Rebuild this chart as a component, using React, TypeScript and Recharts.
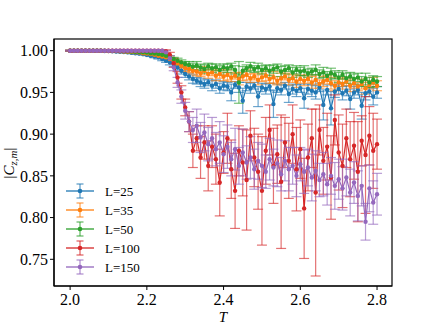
import React from 'react';
import { LineChart, Line, XAxis, YAxis, ErrorBar } from 'recharts';

// temperatures, step 0.01
const temps = [
  2.0, 2.01, 2.02, 2.03, 2.04, 2.05, 2.06, 2.07, 2.08, 2.09,
  2.1, 2.11, 2.12, 2.13, 2.14, 2.15, 2.16, 2.17, 2.18, 2.19,
  2.2, 2.21, 2.22, 2.23, 2.24, 2.25, 2.26, 2.27, 2.28, 2.29,
  2.3, 2.31, 2.32, 2.33, 2.34, 2.35, 2.36, 2.37, 2.38, 2.39,
  2.4, 2.41, 2.42, 2.43, 2.44, 2.45, 2.46, 2.47, 2.48, 2.49,
  2.5, 2.51, 2.52, 2.53, 2.54, 2.55, 2.56, 2.57, 2.58, 2.59,
  2.6, 2.61, 2.62, 2.63, 2.64, 2.65, 2.66, 2.67, 2.68, 2.69,
  2.7, 2.71, 2.72, 2.73, 2.74, 2.75, 2.76, 2.77, 2.78, 2.79,
  2.8,
];

const l25 = [
  1, 1, 1, 1, 1, 1, 1, 1, 1, 0.9995,
  0.9995, 0.9993, 0.999, 0.9988, 0.9985, 0.998, 0.9975, 0.997, 0.9965, 0.996,
  0.995, 0.994, 0.993, 0.992, 0.99, 0.988, 0.986, 0.984, 0.98, 0.976,
  0.972, 0.969, 0.966, 0.964, 0.962, 0.96, 0.962, 0.958, 0.96, 0.955,
  0.958, 0.957, 0.95, 0.959, 0.956, 0.94, 0.957, 0.955, 0.958, 0.945,
  0.956, 0.954, 0.957, 0.936, 0.955, 0.953, 0.958, 0.948, 0.954, 0.952,
  0.955, 0.943, 0.954, 0.952, 0.95, 0.956, 0.935, 0.953, 0.931, 0.951,
  0.954, 0.949, 0.952, 0.942, 0.95, 0.953, 0.934, 0.949, 0.951, 0.945,
  0.95,
];
const l25Err = [
  0.0005, 0.0005, 0.0005, 0.0005, 0.0005, 0.0005, 0.0005, 0.0005, 0.0005, 0.0005,
  0.0005, 0.001, 0.001, 0.001, 0.001, 0.001, 0.001, 0.001, 0.001, 0.001,
  0.001, 0.001, 0.0015, 0.002, 0.002, 0.002, 0.003, 0.003, 0.003, 0.004,
  0.004, 0.004, 0.005, 0.004, 0.005, 0.005, 0.004, 0.006, 0.005, 0.006,
  0.005, 0.005, 0.01, 0.004, 0.006, 0.015, 0.005, 0.006, 0.004, 0.012,
  0.005, 0.006, 0.004, 0.016, 0.005, 0.006, 0.004, 0.01, 0.006, 0.007,
  0.005, 0.012, 0.006, 0.007, 0.008, 0.005, 0.018, 0.006, 0.02, 0.007,
  0.006, 0.008, 0.006, 0.012, 0.007, 0.006, 0.016, 0.008, 0.006, 0.01,
  0.007,
];

const l35 = [
  1, 1, 1, 1, 1, 1, 1, 1, 1, 0.9998,
  0.9997, 0.9996, 0.9995, 0.9993, 0.999, 0.9988, 0.9985, 0.998, 0.9977, 0.997,
  0.9965, 0.996, 0.995, 0.994, 0.993, 0.992, 0.99, 0.988, 0.985, 0.982,
  0.979, 0.978, 0.976, 0.975, 0.973, 0.976, 0.972, 0.974, 0.97, 0.972,
  0.969, 0.971, 0.968, 0.97, 0.966, 0.969, 0.971, 0.967, 0.969, 0.965,
  0.968, 0.97, 0.966, 0.968, 0.964, 0.967, 0.969, 0.965, 0.967, 0.963,
  0.966, 0.964, 0.966, 0.962, 0.965, 0.96, 0.963, 0.965, 0.961, 0.958,
  0.962, 0.96, 0.963, 0.958, 0.961, 0.957, 0.96, 0.955, 0.959, 0.962,
  0.958,
];
const l35Err = [
  0.0005, 0.0005, 0.0005, 0.0005, 0.0005, 0.0005, 0.0005, 0.0005, 0.0005, 0.0005,
  0.0005, 0.0005, 0.0005, 0.001, 0.001, 0.001, 0.001, 0.001, 0.001, 0.001,
  0.001, 0.001, 0.001, 0.0015, 0.002, 0.002, 0.002, 0.003, 0.003, 0.003,
  0.004, 0.004, 0.004, 0.005, 0.004, 0.005, 0.005, 0.004, 0.006, 0.005,
  0.005, 0.006, 0.005, 0.004, 0.007, 0.005, 0.006, 0.005, 0.004, 0.006,
  0.005, 0.006, 0.005, 0.007, 0.005, 0.006, 0.004, 0.006, 0.005, 0.007,
  0.005, 0.006, 0.005, 0.007, 0.006, 0.005, 0.006, 0.005, 0.007, 0.006,
  0.005, 0.006, 0.005, 0.007, 0.006, 0.005, 0.006, 0.007, 0.005, 0.006,
  0.006,
];

const l50 = [
  1, 1, 1, 1, 1, 1, 1, 1, 1, 1,
  0.9998, 0.9998, 0.9997, 0.9996, 0.9995, 0.9993, 0.999, 0.9988, 0.9985, 0.998,
  0.9977, 0.997, 0.9965, 0.996, 0.995, 0.994, 0.992, 0.99, 0.988, 0.986,
  0.984, 0.983, 0.981, 0.982, 0.98, 0.978, 0.981, 0.979, 0.98, 0.977,
  0.98, 0.979, 0.981, 0.977, 0.962, 0.976, 0.979, 0.981, 0.978, 0.98,
  0.977, 0.979, 0.976, 0.978, 0.98, 0.975, 0.977, 0.979, 0.974, 0.977,
  0.975, 0.976, 0.973, 0.975, 0.977, 0.972, 0.974, 0.97, 0.973, 0.971,
  0.968, 0.971, 0.967, 0.969, 0.966, 0.968, 0.963, 0.966, 0.962, 0.965,
  0.963,
];
const l50Err = [
  0.0005, 0.0005, 0.0005, 0.0005, 0.0005, 0.0005, 0.0005, 0.0005, 0.0005, 0.0005,
  0.0005, 0.0005, 0.0005, 0.0005, 0.001, 0.001, 0.001, 0.001, 0.001, 0.001,
  0.001, 0.001, 0.001, 0.001, 0.0015, 0.002, 0.002, 0.002, 0.003, 0.003,
  0.003, 0.004, 0.004, 0.005, 0.004, 0.005, 0.004, 0.005, 0.004, 0.005,
  0.004, 0.005, 0.004, 0.005, 0.025, 0.005, 0.004, 0.005, 0.004, 0.005,
  0.005, 0.004, 0.006, 0.005, 0.004, 0.006, 0.005, 0.004, 0.006, 0.005,
  0.005, 0.006, 0.005, 0.004, 0.006, 0.005, 0.006, 0.005, 0.006, 0.005,
  0.006, 0.005, 0.006, 0.005, 0.006, 0.005, 0.006, 0.007, 0.006, 0.005,
  0.006,
];

const l100 = [
  1, 1, 1, 1, 1, 1, 1, 1, 1, 1,
  1, 1, 1, 1, 1, 1, 1, 1, 1, 1,
  1, 1, 1, 1, 1, 0.999, 0.995, 0.985, 0.968, 0.95,
  0.932, 0.915, 0.88, 0.895, 0.872, 0.89, 0.862, 0.885, 0.87, 0.842,
  0.878, 0.895, 0.858, 0.832, 0.88, 0.866, 0.845, 0.898, 0.872, 0.855,
  0.832, 0.88, 0.905, 0.862, 0.876, 0.843, 0.89, 0.868, 0.9, 0.858,
  0.882, 0.811, 0.872, 0.895, 0.83, 0.905, 0.868, 0.885, 0.848, 0.917,
  0.878, 0.862, 0.895, 0.87, 0.886, 0.855, 0.892, 0.875, 0.898, 0.88,
  0.888,
];
const l100Err = [
  0.0005, 0.0005, 0.0005, 0.0005, 0.0005, 0.0005, 0.0005, 0.0005, 0.0005, 0.0005,
  0.0005, 0.0005, 0.0005, 0.0005, 0.0005, 0.0005, 0.0005, 0.0005, 0.0005, 0.0005,
  0.0005, 0.0005, 0.0005, 0.0005, 0.001, 0.002, 0.003, 0.005, 0.007, 0.008,
  0.01, 0.012, 0.02, 0.015, 0.025, 0.02, 0.03, 0.025, 0.03, 0.04,
  0.025, 0.03, 0.035, 0.045, 0.03, 0.04, 0.06, 0.03, 0.035, 0.045,
  0.065, 0.04, 0.03, 0.045, 0.035, 0.08, 0.03, 0.045, 0.035, 0.05,
  0.035, 0.06, 0.04, 0.035, 0.1, 0.03, 0.04, 0.04, 0.05, 0.03,
  0.045, 0.05, 0.035, 0.045, 0.04, 0.06, 0.03, 0.07, 0.035, 0.045,
  0.03,
];

const l150 = [
  1, 1, 1, 1, 1, 1, 1, 1, 1, 1,
  1, 1, 1, 1, 1, 1, 1, 1, 1, 1,
  1, 1, 1, 1, 1, 0.998, 0.991, 0.98, 0.962, 0.945,
  0.928, 0.915, 0.905, 0.91, 0.896, 0.902, 0.888, 0.895, 0.882, 0.89,
  0.876, 0.885, 0.87, 0.882, 0.862, 0.878, 0.866, 0.872, 0.858, 0.868,
  0.862, 0.855, 0.87, 0.86, 0.865, 0.852, 0.868, 0.858, 0.862, 0.85,
  0.864, 0.855, 0.86, 0.848, 0.856, 0.845, 0.852, 0.84, 0.85, 0.838,
  0.846, 0.835, 0.848, 0.83, 0.842, 0.826, 0.838, 0.795, 0.835, 0.818,
  0.828,
];
const l150Err = [
  0.0005, 0.0005, 0.0005, 0.0005, 0.0005, 0.0005, 0.0005, 0.0005, 0.0005, 0.0005,
  0.0005, 0.0005, 0.0005, 0.0005, 0.0005, 0.0005, 0.0005, 0.0005, 0.0005, 0.0005,
  0.0005, 0.0005, 0.0005, 0.0005, 0.001, 0.002, 0.003, 0.004, 0.006, 0.008,
  0.01, 0.012, 0.015, 0.02, 0.018, 0.022, 0.02, 0.025, 0.02, 0.025,
  0.022, 0.026, 0.02, 0.025, 0.022, 0.028, 0.02, 0.025, 0.024, 0.022,
  0.026, 0.02, 0.025, 0.022, 0.028, 0.02, 0.024, 0.026, 0.022, 0.025,
  0.02, 0.026, 0.022, 0.028, 0.024, 0.02, 0.026, 0.025, 0.022, 0.028,
  0.024, 0.026, 0.022, 0.028, 0.025, 0.03, 0.024, 0.022, 0.028, 0.026,
  0.025,
];

const xTicks = [2.0, 2.2, 2.4, 2.6, 2.8];
const yTicks = [0.75, 0.8, 0.85, 0.9, 0.95, 1.0];

const series = [
  { key: 'l25', err: 'l25e', name: 'L=25', color: '#1f77b4' },
  { key: 'l35', err: 'l35e', name: 'L=35', color: '#ff7f0e' },
  { key: 'l50', err: 'l50e', name: 'L=50', color: '#2ca02c' },
  { key: 'l100', err: 'l100e', name: 'L=100', color: '#d62728' },
  { key: 'l150', err: 'l150e', name: 'L=150', color: '#9467bd' },
];

const data = temps.map((t, i) => ({
  T: t,
  l25: l25[i], l25e: l25Err[i],
  l35: l35[i], l35e: l35Err[i],
  l50: l50[i], l50e: l50Err[i],
  l100: l100[i], l100e: l100Err[i],
  l150: l150[i], l150e: l150Err[i],
}));

const FONT = '"Liberation Serif", "DejaVu Serif", serif';

const YLabel = () => (
  <text
    transform="translate(14,163) rotate(-90)"
    textAnchor="middle"
    fontFamily={FONT}
    fontSize={15}
    fill="#000"
  >
    |<tspan fontStyle="italic">C</tspan>
    <tspan fontStyle="italic" fontSize={11} dy={3}>z,m</tspan>
    <tspan dy={-3}>|</tspan>
  </text>
);

// frame + legend drawn over the chart
const Overlay = () => (
  <svg
    width={436}
    height={327}
    style={{ position: 'absolute', left: 0, top: 0, pointerEvents: 'none' }}
  >
    <rect x={54} y={39} width={338} height={247} fill="none" stroke="#000" strokeWidth={1.2} />
    {series.map((s, i) => {
      const y = 191 + i * 19;
      return (
        <g key={s.key}>
          <line x1={66} x2={94} y1={y} y2={y} stroke={s.color} strokeWidth={1.3} />
          <line x1={80} x2={80} y1={y - 7} y2={y + 7} stroke={s.color} strokeOpacity={0.7} strokeWidth={1.3} />
          <line x1={76.5} x2={83.5} y1={y - 7} y2={y - 7} stroke={s.color} strokeOpacity={0.7} strokeWidth={1.3} />
          <line x1={76.5} x2={83.5} y1={y + 7} y2={y + 7} stroke={s.color} strokeOpacity={0.7} strokeWidth={1.3} />
          <circle cx={80} cy={y} r={2.3} fill={s.color} />
          <text x={105} y={y + 4.5} fontFamily={FONT} fontSize={13} fill="#000">
            {s.name}
          </text>
        </g>
      );
    })}
  </svg>
);

export default function App() {
  return (
    <div style={{ position: 'absolute', left: 0, top: 0, width: 436, height: 327, background: '#fff' }}>
      <LineChart
        width={436}
        height={327}
        data={data}
        margin={{ top: 39, right: 44, left: 0, bottom: 11 }}
      >
        <XAxis
          dataKey="T"
          type="number"
          domain={[1.958, 2.839]}
          ticks={xTicks}
          allowDataOverflow
          tickFormatter={(v: number) => v.toFixed(1)}
          tick={{ fontFamily: FONT, fontSize: 16, fill: '#000' }}
          tickSize={4}
          tickMargin={4}
          height={30}
          axisLine={{ stroke: '#000', strokeWidth: 1.2 }}
          tickLine={{ stroke: '#000' }}
          label={{ value: 'T', position: 'insideBottom', offset: -6, fontFamily: FONT, fontSize: 15, fontStyle: 'italic', fill: '#000' }}
        />
        <YAxis
          type="number"
          domain={[0.718, 1.014]}
          ticks={yTicks}
          allowDataOverflow
          tickFormatter={(v: number) => v.toFixed(2)}
          tick={{ fontFamily: FONT, fontSize: 16, fill: '#000' }}
          tickSize={4}
          tickMargin={2}
          width={54}
          axisLine={{ stroke: '#000', strokeWidth: 1.2 }}
          tickLine={{ stroke: '#000' }}
          label={<YLabel />}
        />
        {series.map((s) => (
          <Line
            key={s.key}
            dataKey={s.key}
            name={s.name}
            type="linear"
            stroke={s.color}
            strokeWidth={1.2}
            dot={{ r: 2.2, fill: s.color, stroke: s.color, strokeWidth: 0 }}
            activeDot={false}
            isAnimationActive={false}
          >
            <ErrorBar
              dataKey={s.err}
              width={5}
              stroke={s.color}
              strokeWidth={1.2}
              strokeOpacity={0.65}
              isAnimationActive={false}
            />
          </Line>
        ))}
      </LineChart>
      <Overlay />
    </div>
  );
}
